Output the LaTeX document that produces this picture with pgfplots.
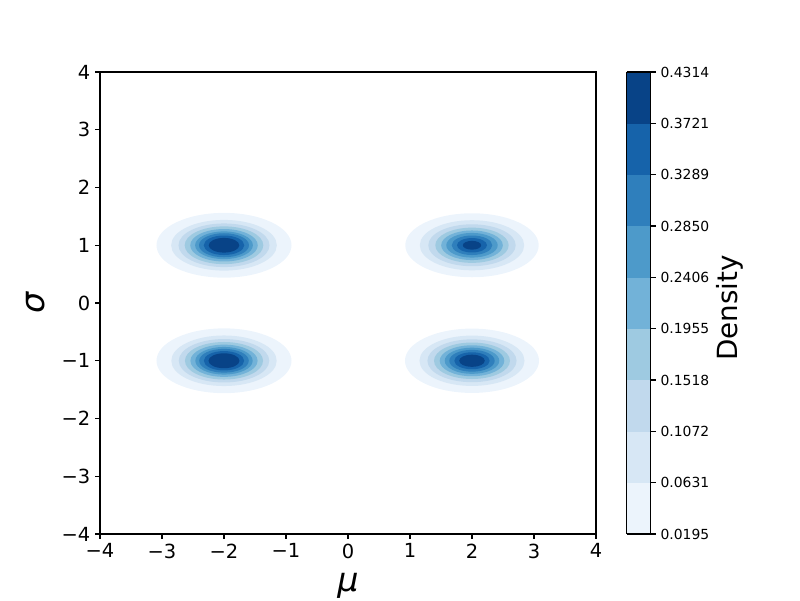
\documentclass[border=0pt]{standalone}
\usepackage{pgfplots}
\pgfplotsset{compat=1.18}
\usepackage{fontspec}
\setmainfont{DejaVu Sans}[ItalicFont={DejaVu Sans Oblique}]

% filled ellipse mark, radii (pt) come from the table via \rx and \ry
\pgfdeclareplotmark{ring}{%
  \pgfpathellipse{\pgfpointorigin}{\pgfpoint{\rx pt}{0pt}}{\pgfpoint{0pt}{\ry pt}}%
  \pgfusepathqfill}

% contour bands of each blob: centre, semi-axes (axis units), band index
\pgfplotstableread{
x   y   rx     ry     c
-2  1   1.089  0.561  0.5
-2  1   0.852  0.439  1.5
-2  1   0.734  0.378  2.5
-2  1   0.634  0.327  3.5
-2  1   0.545  0.281  4.5
-2  1   0.466  0.240  5.5
-2  1   0.403  0.208  6.5
-2  1   0.327  0.169  7.5
-2  1   0.247  0.127  8.5
2   1   1.076  0.554  0.5
2   1   0.842  0.434  1.5
2   1   0.705  0.363  2.5
2   1   0.592  0.305  3.5
2   1   0.497  0.256  4.5
2   1   0.415  0.214  5.5
2   1   0.327  0.169  6.5
2   1   0.242  0.125  7.5
2   1   0.148  0.076  8.5
-2  -1  1.089  0.561  0.5
-2  -1  0.850  0.438  1.5
-2  -1  0.730  0.376  2.5
-2  -1  0.630  0.325  3.5
-2  -1  0.542  0.279  4.5
-2  -1  0.463  0.239  5.5
-2  -1  0.400  0.206  6.5
-2  -1  0.325  0.168  7.5
-2  -1  0.250  0.129  8.5
2   -1  1.081  0.557  0.5
2   -1  0.847  0.436  1.5
2   -1  0.719  0.371  2.5
2   -1  0.613  0.316  3.5
2   -1  0.521  0.268  4.5
2   -1  0.440  0.227  5.5
2   -1  0.366  0.189  6.5
2   -1  0.285  0.147  7.5
2   -1  0.206  0.106  8.5
}\blobs

\begin{document}
\begin{tikzpicture}
\path[use as bounding box] (-72pt,-47.52pt) rectangle (504pt,384.48pt);
\begin{axis}[
    scale only axis,
    width=357.12pt, height=332.64pt,
    xmin=-4, xmax=4, ymin=-4, ymax=4,
    xtick={-4,-3,-2,-1,0,1,2,3,4},
    ytick={-4,-3,-2,-1,0,1,2,3,4},
    xticklabels={−4,−3,−2,−1,0,1,2,3,4},
    yticklabels={−4,−3,−2,−1,0,1,2,3,4},
    tick align=outside,
    major tick length=3.5pt,
    xtick pos=bottom, ytick pos=left,
    axis line style={line width=0.8pt},
    every tick/.style={black, line width=0.8pt},
    ticklabel style={font=\fontsize{14}{16}\selectfont},
    xlabel={\itshape μ},
    ylabel={\itshape σ},
    xlabel style={font=\fontsize{24}{28}\selectfont, at={(axis description cs:0.5,-0.1251)}, anchor=base},
    ylabel style={font=\fontsize{24}{28}\selectfont, at={(axis description cs:-0.1109,0.5)}, anchor=base},
    colormap={kde}{
        rgb255=(236,244,252) rgb255=(215,231,245) rgb255=(193,217,237)
        rgb255=(158,202,225) rgb255=(114,178,216) rgb255=(77,154,202)
        rgb255=(47,127,188)  rgb255=(22,99,170)   rgb255=(8,67,135)},
    colormap access=piecewise constant,
    point meta min=0, point meta max=9,
    colorbar,
    colorbar style={
        at={(parent axis.north east)}, anchor=north west, xshift=13.68pt,
        width=17.28pt, height=332.64pt,
        ytick={0,1,2,3,4,5,6,7,8,9},
        yticklabels={0.0195,0.0631,0.1072,0.1518,0.1955,0.2406,0.2850,0.3289,0.3721,0.4314},
        ytick pos=right, yticklabel pos=right,
        tick align=outside, major tick length=3.5pt,
        axis line style={line width=0.8pt},
        every tick/.style={black, line width=0.8pt},
        yticklabel style={font=\fontsize{10}{12}\selectfont},
        ylabel={Density},
        ylabel style={font=\fontsize{20}{24}\selectfont, at={(axis description cs:4.6,0.489)}, anchor=base, rotate=0},
    },
]
\addplot[scatter, only marks, mark=ring,
    point meta=\thisrow{c},
    visualization depends on={44.64*\thisrow{rx}\as\rx},
    visualization depends on={41.58*\thisrow{ry}\as\ry},
    scatter/use mapped color={draw=none, fill=mapped color}]
    table[x=x, y=y] {\blobs};
\end{axis}
\end{tikzpicture}
\end{document}
